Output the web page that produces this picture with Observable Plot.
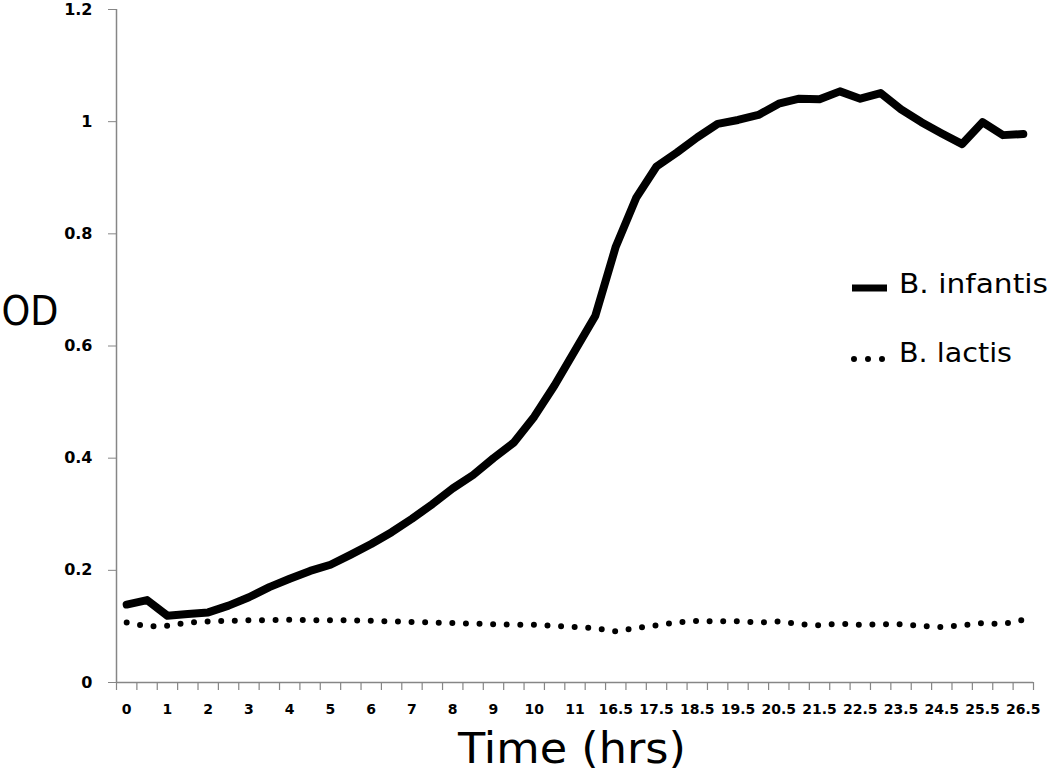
<!DOCTYPE html>
<html>
<head>
<meta charset="utf-8">
<script src="https://cdn.jsdelivr.net/npm/d3@7"></script>
<script src="https://cdn.jsdelivr.net/npm/@observablehq/plot@0.6"></script>
<style>
  html, body { margin: 0; padding: 0; background: #fff; overflow: hidden; }
  #chart { position: relative; width: 1050px; height: 772px; }
</style>
</head>
<body>
<div id="chart"></div>
<script>
// ---- data ----
const times = [
  "0","0.5","1","1.5","2","2.5","3","3.5","4","4.5","5","5.5",
  "6","6.5","7","7.5","8","8.5","9","9.5","10","10.5","11","11.5",
  "16.5","17","17.5","18","18.5","19","19.5","20","20.5","21","21.5",
  "22","22.5","23","23.5","24","24.5","25","25.5","26","26.5"
];
const infantis = [
  0.139,0.147,0.119,0.122,0.125,0.137,0.152,0.170,0.185,0.199,0.210,0.228,
  0.247,0.268,0.292,0.318,0.346,0.370,0.400,0.428,0.474,0.530,0.592,0.654,
  0.777,0.864,0.920,0.945,0.972,0.996,1.003,1.012,1.032,1.041,1.040,
  1.054,1.041,1.051,1.022,0.999,0.979,0.960,0.999,0.976,0.978
];
const lactis = [
  0.107,0.100,0.101,0.107,0.109,0.110,0.111,0.111,0.112,0.111,0.111,0.111,
  0.110,0.109,0.108,0.107,0.106,0.105,0.104,0.103,0.103,0.101,0.099,0.097,
  0.091,0.097,0.102,0.107,0.110,0.109,0.109,0.107,0.109,0.104,0.102,
  0.105,0.103,0.104,0.104,0.101,0.099,0.102,0.106,0.104,0.112
];
const seriesNames = ["B. infantis", "B. lactis"];
const yTicks = [0, 0.2, 0.4, 0.6, 0.8, 1, 1.2];
const yTickLabels = ["0", "0.2", "0.4", "0.6", "0.8", "1", "1.2"];
const xTitle = "Time (hrs)";
const yTitle = "OD";

// ---- build ----
const data = times.map((t, i) => ({i, t, infantis: infantis[i], lactis: lactis[i]}));
const labelIdx = times.map((t, i) => i).filter(i => i % 2 === 0);
const boundaries = d3.range(-0.5, times.length, 1);
const gray = "#868686";
const font = "'DejaVu Sans', sans-serif";

const plot = Plot.plot({
  width: 1050,
  height: 772,
  marginLeft: 116,
  marginRight: 17,
  marginTop: 9,
  marginBottom: 90,
  style: {fontFamily: font, background: "#fff", color: "#000"},
  x: {type: "linear", domain: [-0.5, times.length - 0.5]},
  y: {domain: [0, 1.2]},
  marks: [
    Plot.ruleY([0], {stroke: gray, strokeWidth: 1.5}),
    Plot.ruleX([-0.5], {stroke: gray, strokeWidth: 1.5}),
    Plot.axisY({
      ticks: yTicks, tickFormat: d => yTickLabels[yTicks.indexOf(d)],
      tickSize: 8, tickPadding: 16, stroke: gray, fill: "#000",
      fontSize: 16, fontWeight: "bold", label: null
    }),
    Plot.axisX({ticks: boundaries, tickSize: 8, stroke: gray, strokeWidth: 1.2, fill: "none", label: null}),
    Plot.axisX({
      ticks: labelIdx, tickFormat: i => times[i], tickSize: 0, tickPadding: 22,
      fill: "#000", fontSize: 14, fontWeight: "bold", label: null
    }),
    Plot.line(data, {
      x: "i", y: "lactis", stroke: "#000", strokeWidth: 6,
      strokeLinecap: "round", strokeDasharray: "0 13.6"
    }),
    Plot.line(data, {
      x: "i", y: "infantis", stroke: "#000", strokeWidth: 8,
      strokeLinejoin: "round", strokeLinecap: "round"
    }),
    Plot.text([xTitle], {text: d => d, frameAnchor: "bottom", dy: 80, dx: -3, fontSize: 42, fill: "#000"}),
    Plot.text([yTitle], {text: d => d, frameAnchor: "left", textAnchor: "start", dx: -115, dy: -34, fontSize: 40, fill: "#000"})
  ]
});

document.getElementById("chart").appendChild(plot);

// stretch / fit the title texts to the reference widths
for (const t of plot.querySelectorAll("text")) {
  if (t.textContent === xTitle) {
    t.setAttribute("textLength", 228);
    t.setAttribute("lengthAdjust", "spacingAndGlyphs");
  }
  if (t.textContent === yTitle) {
    t.setAttribute("textLength", 57);
    t.setAttribute("lengthAdjust", "spacingAndGlyphs");
  }
}

// ---- legend (inside the plot's svg) ----
const svg = d3.select(plot);
const lg = svg.append("g")
  .attr("font-family", font).attr("font-size", 27).attr("text-anchor", "start");
const legendItems = [
  {name: seriesNames[0], dash: null, width: 7, cy: 288, textY: 293, len: 149},
  {name: seriesNames[1], dash: "0 14", width: 6, cy: 359, textY: 362, len: 113}
];
for (const it of legendItems) {
  const ln = lg.append("line")
    .attr("x1", it.dash ? 854 : 852).attr("x2", it.dash ? 884 : 887)
    .attr("y1", it.cy).attr("y2", it.cy)
    .attr("stroke", "#000").attr("stroke-width", it.width)
    .attr("stroke-linecap", it.dash ? "round" : "butt");
  if (it.dash) ln.attr("stroke-dasharray", it.dash);
  lg.append("text")
    .attr("x", 899).attr("y", it.textY)
    .attr("text-anchor", "start")
    .attr("textLength", it.len).attr("lengthAdjust", "spacingAndGlyphs")
    .attr("fill", "#000")
    .text(it.name);
}
</script>
</body>
</html>
